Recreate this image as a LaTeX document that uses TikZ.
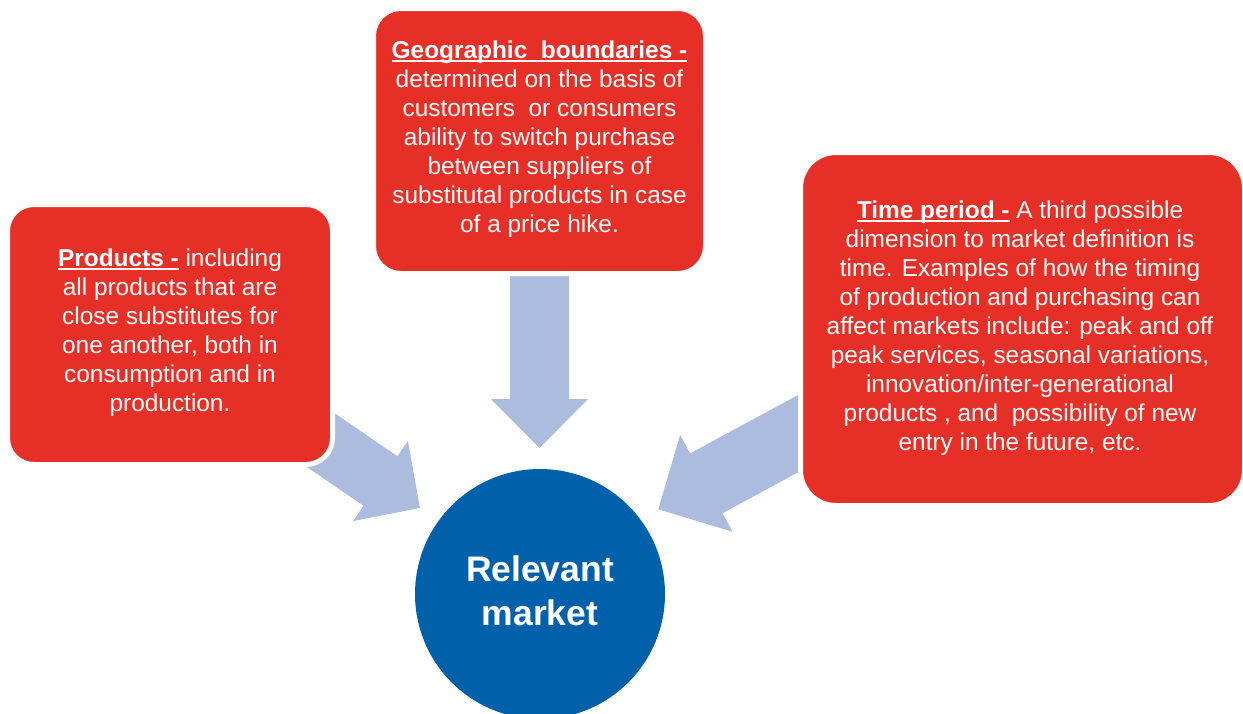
\documentclass[tikz,border=0pt]{standalone}
\usepackage{fontspec}
\setmainfont{Liberation Sans}
\definecolor{boxred}{RGB}{230,48,39}
\definecolor{circblue}{RGB}{0,97,170}
\definecolor{arrowblue}{RGB}{171,188,222}
\newsavebox\ulbox
\newcommand\myul[1]{\sbox\ulbox{#1}\rlap{\rule[-3.5pt]{\wd\ulbox}{2pt}}\usebox\ulbox}
\begin{document}
\begin{tikzpicture}[x=1pt,y=-1pt,
  blockarrow/.style={fill=arrowblue},
  redbox/.style={fill=boxred, draw=white, line width=5pt, inner sep=0pt},
  boxtext/.style={text=white, align=center, inner sep=0pt, font=\fontsize{24.4}{29}\selectfont},
  circtext/.style={text=white, align=center, inner sep=0pt, font=\bfseries\fontsize{35.5}{44}\selectfont}]
\useasboundingbox (0,0) rectangle (1243,713);
\clip (0,0) rectangle (1243,713);
% block arrows
\begin{scope}[shift={(380.5,481)}, rotate=-34.4]
  \fill[blockarrow] (-150,30) -- (0,30) -- (0,48.5) -- (47.8,0) -- (0,-48.5) -- (0,-30) -- (-150,-30) -- cycle;
\end{scope}
\begin{scope}[shift={(539.5,399)}, rotate=-90]
  \fill[blockarrow] (-133,29.5) -- (0,29.5) -- (0,48.5) -- (49,0) -- (0,-48.5) -- (0,-29.5) -- (-133,-29.5) -- cycle;
\end{scope}
\begin{scope}[shift={(706.3,483.3)}, rotate=208.4]
  \fill[blockarrow] (-150,34) -- (0,34) -- (0,55) -- (54.6,0) -- (0,-55) -- (0,-34) -- (-150,-34) -- cycle;
\end{scope}
% boxes
\node[redbox, rounded corners=26.5pt, minimum width=325pt, minimum height=260pt] (prodbox) at (170,334.5) {};
\node[redbox, rounded corners=27.5pt, minimum width=332pt, minimum height=265pt] (geobox) at (539.5,141) {};
\node[redbox, rounded corners=35.5pt, minimum width=444pt, minimum height=353pt] (timebox) at (1022.5,329) {};
\node[boxtext] (prodtext) at (170,333) {\myul{\textbf{Products -}} including\\all products that are\\close substitutes for\\one another, both in\\consumption and in\\production.};
\node[boxtext] (geotext) at (539.5,139) {\myul{\textbf{Geographic\ \ boundaries -}}\\determined on the basis of\\customers\ \ or consumers\\ability to switch purchase\\between suppliers of\\substitutal products in case\\of a price hike.};
\node[boxtext] (timetext) at (1020,328) {\myul{\textbf{Time period -}} A third possible\\dimension to market definition is\\time. Examples of how the timing\\of production and purchasing can\\affect markets include: peak and off\\peak services, seasonal variations,\\innovation/inter-generational\\products , and\ \ possibility of new\\entry in the future, etc.};
% circle
\node[circle, fill=circblue, minimum size=250pt, inner sep=0pt] (market) at (540,594) {};
\node[circtext] (markettext) at (540,591) {Relevant\\market};
\end{tikzpicture}
\end{document}
